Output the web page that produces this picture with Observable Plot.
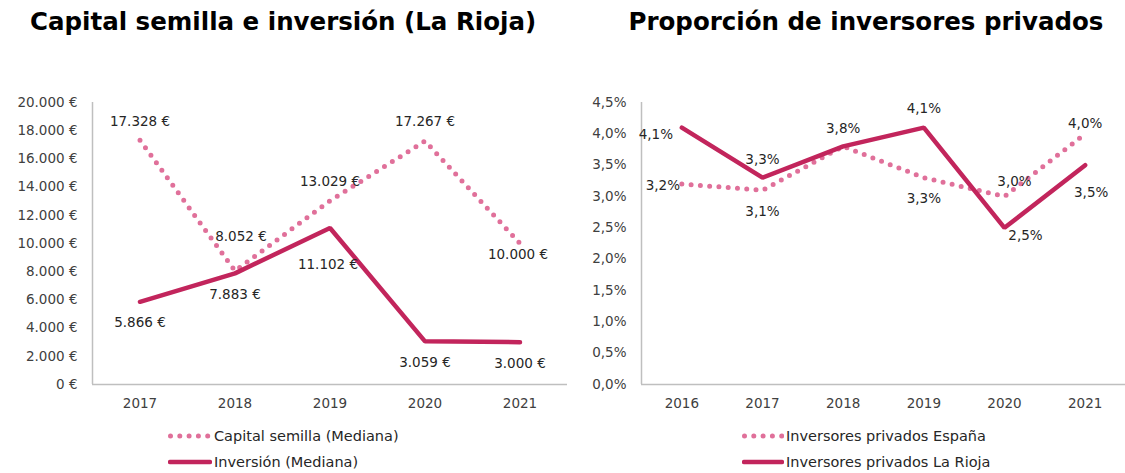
<!DOCTYPE html>
<html>
<head>
<meta charset="utf-8">
<script src="https://cdn.jsdelivr.net/npm/d3@7"></script>
<script src="https://cdn.jsdelivr.net/npm/@observablehq/plot@0.6"></script>
<style>
  html, body { margin: 0; padding: 0; background: #fff; }
  #root { position: relative; width: 1125px; height: 473px; overflow: hidden; font-family: "DejaVu Sans", sans-serif; }
  .title { position: absolute; top: 7px; font-weight: bold; font-size: 24.5px; color: #000; white-space: nowrap; text-align: center; }
  .chart { position: absolute; top: 80px; }
  .chart text { font-size: 13.5px; }
  .legend { position: absolute; font-size: 14.5px; color: #262626; }
  .legend div { display: flex; align-items: center; height: 26px; }
  .legend svg { margin-right: 2px; }
</style>
</head>
<body>
<div id="root"></div>
<script>
// ---------- data ----------
const yearsLeft = [2017, 2018, 2019, 2020, 2021];
const capitalSemilla = [17328, 8052, 13029, 17267, 10000];
const inversion = [5866, 7883, 11102, 3059, 3000];
const leftTicks = [0, 2000, 4000, 6000, 8000, 10000, 12000, 14000, 16000, 18000, 20000];

const yearsRight = [2016, 2017, 2018, 2019, 2020, 2021];
const inversoresEspana = [3.2, 3.1, 3.8, 3.3, 3.0, 4.0];
const inversoresRioja = [4.1, 3.3, 3.8, 4.1, 2.5, 3.5];
const rightTicks = [0, 0.5, 1, 1.5, 2, 2.5, 3, 3.5, 4, 4.5];

const titleLeft = "Capital semilla e inversión (La Rioja)";
const titleRight = "Proporción de inversores privados";
const seriesLeft = ["Capital semilla (Mediana)", "Inversión (Mediana)"];
const seriesRight = ["Inversores privados España", "Inversores privados La Rioja"];

// label offsets (layout only)
const offCapital = [[0, -19], [6, -34], [0, -19], [0, -19], [-2, 11]];
const offInversion = [[0, 21], [0, 21], [-2, 37], [0, 21], [0, 21]];
const offEspana = [[-19, 2], [0, 21], [0, -18], [0, 21], [10, -15], [0, -10]];
const offRioja = [[-26, 7], [0, -18], [0, -18], [0, -19], [21, 8], [6, 28]];

// ---------- styles ----------
const PINK = "#e0709a";
const CRIMSON = "#c2255c";
const AXIS = "#bfbfbf";
const FONT = "DejaVu Sans, sans-serif";

const fmtEuro = v => d3.format(",")(v).replace(/,/g, ".") + " €";
const fmtPct = v => v.toFixed(1).replace(".", ",") + "%";

const leftCap = yearsLeft.map((y, i) => ({year: y, value: capitalSemilla[i]}));
const leftInv = yearsLeft.map((y, i) => ({year: y, value: inversion[i]}));
const rightEsp = yearsRight.map((y, i) => ({year: y, value: inversoresEspana[i]}));
const rightRio = yearsRight.map((y, i) => ({year: y, value: inversoresRioja[i]}));

function labelMarks(data, offs, fmt, other) {
  return data
    .map((d, i) => ({d, i}))
    .filter(({d}) => !(other && other.some(o => o.year === d.year && o.value === d.value)))
    .map(({d, i}) => Plot.text([d], {
      x: "year", y: "value", text: d => fmt(d.value),
      dx: offs[i][0], dy: offs[i][1], fill: "#262626", fontSize: 13.5
    }));
}

function makeChart({years, dotted, solid, ticks, yMax, tickFmt, offD, offS, labelFmt, width, marginLeft}) {
  return Plot.plot({
    width, height: 340,
    marginTop: 22, marginBottom: 36, marginLeft, marginRight: 0,
    style: {fontFamily: FONT, fontSize: "13.5px", color: "#404040", background: "transparent"},
    x: {domain: [years[0] - 0.5, years[years.length - 1] + 0.5]},
    y: {domain: [0, yMax]},
    marks: [
      Plot.ruleY([0], {stroke: AXIS, strokeWidth: 1.5}),
      Plot.ruleX([years[0] - 0.5], {stroke: AXIS, strokeWidth: 1.5}),
      Plot.axisY({ticks, tickSize: 0, tickPadding: 15, tickFormat: tickFmt, label: null, fontSize: 13.5}),
      Plot.axisX({ticks: years, tickSize: 0, tickPadding: 14, tickFormat: d => String(d), label: null, fontSize: 13.5}),
      Plot.line(dotted, {x: "year", y: "value", stroke: PINK, strokeWidth: 5, strokeDasharray: "0 9.3", strokeLinecap: "round"}),
      Plot.line(solid, {x: "year", y: "value", stroke: CRIMSON, strokeWidth: 4.5, strokeLinejoin: "miter"}),
      ...labelMarks(dotted, offD, labelFmt),
      ...labelMarks(solid, offS, labelFmt, dotted)
    ]
  });
}

const root = document.getElementById("root");

const leftChart = makeChart({years: yearsLeft, dotted: leftCap, solid: leftInv, ticks: leftTicks, yMax: 20000,
  tickFmt: fmtEuro, offD: offCapital, offS: offInversion, labelFmt: fmtEuro, width: 567, marginLeft: 92});
leftChart.classList.add("chart");
leftChart.style.left = "0px";
root.appendChild(leftChart);

const rightChart = makeChart({years: yearsRight, dotted: rightEsp, solid: rightRio, ticks: rightTicks, yMax: 4.5,
  tickFmt: fmtPct, offD: offEspana, offS: offRioja, labelFmt: fmtPct, width: 558, marginLeft: 74});
rightChart.classList.add("chart");
rightChart.style.left = "567px";
root.appendChild(rightChart);

function addTitle(text, cx) {
  const t = document.createElement("div");
  t.className = "title";
  t.textContent = text;
  root.appendChild(t);
  t.style.left = (cx - t.offsetWidth / 2) + "px";
}
addTitle(titleLeft, 283);
addTitle(titleRight, 866);

function addLegend(names, left, top, swatchW) {
  const lg = document.createElement("div");
  lg.className = "legend";
  lg.style.left = left + "px";
  lg.style.top = top + "px";
  names.forEach((name, i) => {
    const row = document.createElement("div");
    const svg = d3.create("svg").attr("width", swatchW).attr("height", 10);
    if (i === 0) {
      svg.append("line").attr("x1", 2.5).attr("x2", swatchW - 1).attr("y1", 5).attr("y2", 5)
        .attr("stroke", PINK).attr("stroke-width", 5).attr("stroke-linecap", "round").attr("stroke-dasharray", "0 9.3");
    } else {
      svg.append("line").attr("x1", 2).attr("x2", swatchW - 2).attr("y1", 5).attr("y2", 5)
        .attr("stroke", CRIMSON).attr("stroke-width", 4.5).attr("stroke-linecap", "round");
    }
    row.appendChild(svg.node());
    const s = document.createElement("span");
    s.textContent = name;
    row.appendChild(s);
    lg.appendChild(row);
  });
  root.appendChild(lg);
}
addLegend(seriesLeft, 168, 423, 44);
addLegend(seriesRight, 742, 423, 42);
</script>
</body>
</html>
